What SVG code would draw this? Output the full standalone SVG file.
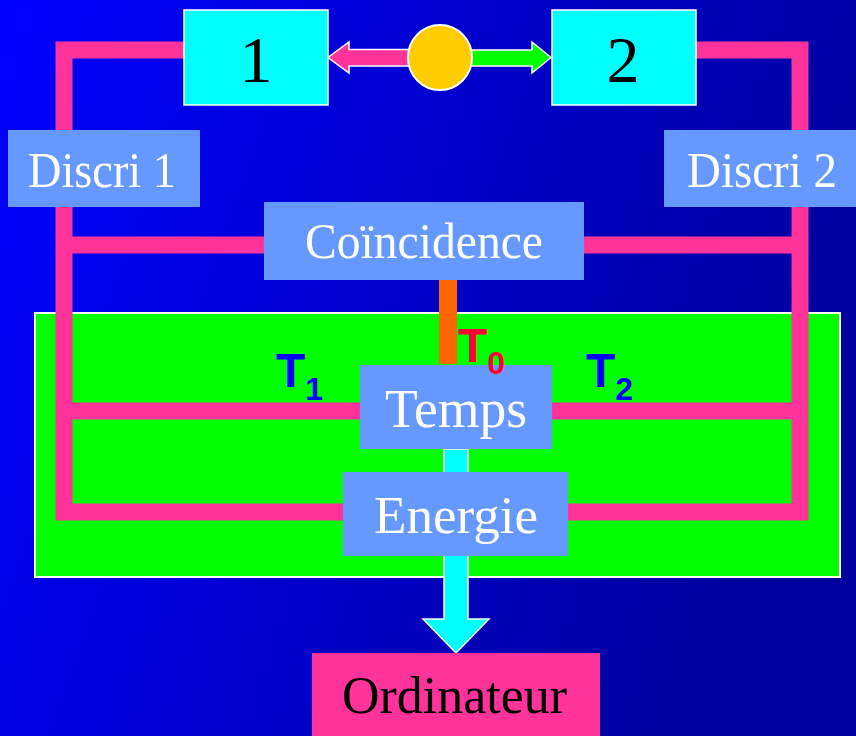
<svg xmlns="http://www.w3.org/2000/svg" width="856" height="736" viewBox="0 0 856 736">
  <defs>
    <linearGradient id="bg" x1="0" y1="0" x2="1" y2="0.3">
      <stop offset="0" stop-color="#0000FF"/>
      <stop offset="1" stop-color="#00009E"/>
    </linearGradient>
  </defs>
  <style>
    .wire { fill: none; stroke: #FF3399; stroke-width: 17; stroke-linejoin: miter; stroke-linecap: butt; }
    .box { fill: #6699FF; }
    .det { fill: #00FFFF; stroke: #FFFFFF; stroke-width: 1.5; }
    .lbl { font-family: "Liberation Serif", "Times New Roman", serif; fill: #FFFFFF; }
    .sig { font-family: "Liberation Sans", Arial, sans-serif; font-weight: bold; }
  </style>

  <!-- background -->
  <rect x="0" y="0" width="856" height="736" fill="url(#bg)"/>

  <!-- electronics crate -->
  <rect id="crate" x="35" y="313" width="805" height="264" fill="#00FF00" stroke="#FFFFFF" stroke-width="2"/>

  <!-- connectors -->
  <g id="connectors">
    <path class="wire" d="M184,50 H64 V512 H343"/>
    <path class="wire" d="M64,245 H264"/>
    <path class="wire" d="M64,411 H360"/>
    <path class="wire" d="M696,50 H800 V512 H568"/>
    <path class="wire" d="M584,245 H800"/>
    <path class="wire" d="M552,411 H800"/>
    <!-- T0 trigger line -->
    <rect x="439" y="279" width="18" height="85" fill="#FF6600"/>
    <!-- data flow to computer -->
    <polygon points="444,449 468,449 468,619 489,619 456,653 423,619 444,619" fill="#00FFFF" stroke="#FFFFFF" stroke-width="1.5"/>
    <!-- source emission arrows -->
    <polygon points="410,49.5 349,49.5 349,42 328,57.5 349,73 349,66 410,66" fill="#FF3399" stroke="#FFFFFF" stroke-width="1.5"/>
    <polygon points="470,50 532,50 532,42 551,57.5 532,73 532,66 470,66" fill="#00FF00" stroke="#FFFFFF" stroke-width="1.5"/>
  </g>

  <!-- source -->
  <g id="source">
    <ellipse cx="440" cy="57.5" rx="32" ry="32.5" fill="#FFCC00" stroke="#FFFFFF" stroke-width="2"/>
  </g>

  <!-- detectors -->
  <g id="det1">
    <rect class="det" x="184" y="10" width="144" height="95"/>
    <text x="256" y="82" font-family="'Liberation Serif', 'Times New Roman', serif" font-size="66" text-anchor="middle" fill="#000000">1</text>
  </g>
  <g id="det2">
    <rect class="det" x="552" y="10" width="144" height="95"/>
    <text x="623" y="82" font-family="'Liberation Serif', 'Times New Roman', serif" font-size="66" text-anchor="middle" fill="#000000">2</text>
  </g>

  <!-- discriminators -->
  <g id="discri1">
    <rect class="box" x="8" y="130" width="192" height="77"/>
    <text class="lbl" x="28" y="187" font-size="51" textLength="148" lengthAdjust="spacingAndGlyphs">Discri 1</text>
  </g>
  <g id="discri2">
    <rect class="box" x="664" y="130" width="192" height="77"/>
    <text class="lbl" x="687" y="187" font-size="51" textLength="150" lengthAdjust="spacingAndGlyphs">Discri 2</text>
  </g>

  <!-- coincidence unit -->
  <g id="coincidence">
    <rect class="box" x="264" y="202" width="320" height="78"/>
    <text class="lbl" x="305" y="258" font-size="51" textLength="238" lengthAdjust="spacingAndGlyphs">Coïncidence</text>
  </g>

  <!-- time module -->
  <g id="temps">
    <rect class="box" x="360" y="365" width="192" height="84"/>
    <text class="lbl" x="385" y="427" font-size="55" textLength="142" lengthAdjust="spacingAndGlyphs">Temps</text>
  </g>

  <!-- energy module -->
  <g id="energie">
    <rect class="box" x="343" y="472" width="225" height="84"/>
    <text class="lbl" x="374" y="533" font-size="53" textLength="164" lengthAdjust="spacingAndGlyphs">Energie</text>
  </g>

  <!-- computer -->
  <g id="ordinateur">
    <rect x="312" y="653" width="288" height="90" fill="#FF3399"/>
    <text x="342" y="713" font-family="'Liberation Serif', 'Times New Roman', serif" font-size="53" textLength="225" lengthAdjust="spacingAndGlyphs" fill="#000000">Ordinateur</text>
  </g>

  <!-- timing signal labels -->
  <g id="labels">
    <text class="sig" x="276" y="387" font-size="48" fill="#0000FF">T<tspan font-size="32" dy="13">1</tspan></text>
    <text class="sig" x="458" y="362" font-size="48" fill="#FF0033">T<tspan font-size="32" dy="12">0</tspan></text>
    <text class="sig" x="586" y="387" font-size="48" fill="#0000FF">T<tspan font-size="32" dy="13">2</tspan></text>
  </g>
</svg>
